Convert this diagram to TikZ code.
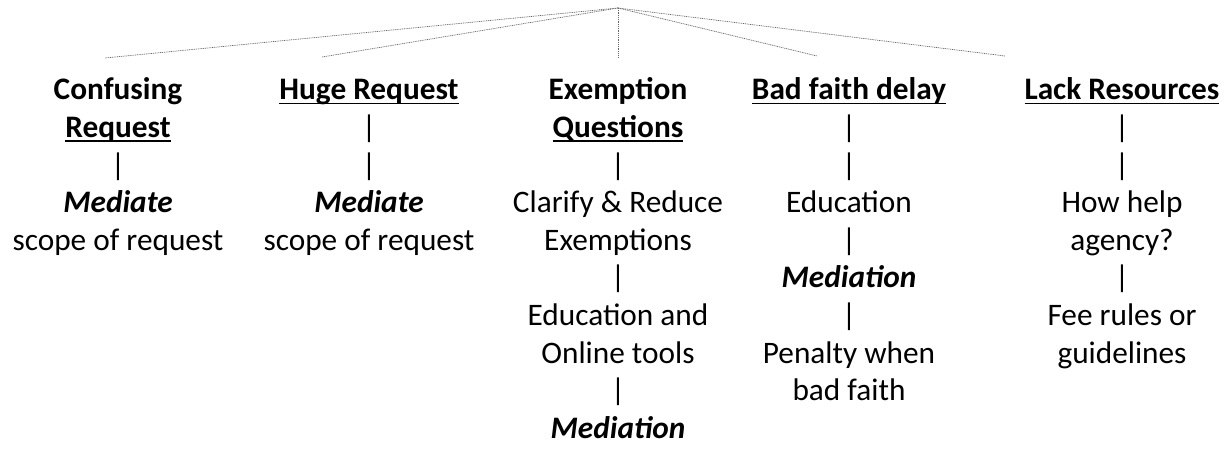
\documentclass[tikz,border=0pt]{standalone}
\usepackage{fontspec}
\setmainfont{Carlito}
% underline set at a fixed depth below the baseline
\newcommand\ulword[1]{\setbox0\hbox{#1}\rlap{\rule[-4.5pt]{\wd0}{1.8pt}}\box0}
\newcommand\medword[1]{\textbf{\textit{#1}}}
\tikzset{
  column/.style={anchor=base, inner sep=0pt, font=\fontsize{31.3}{37.6}\selectfont},
  tie/.style={draw=black!60, line width=0.7pt, dash pattern=on 1pt off 0.8pt}
}
\begin{document}
\begin{tikzpicture}[x=1pt, y=-1pt]
  \useasboundingbox (0,0) rectangle (1232,454);

  % fan of dotted ties from the common apex
  \coordinate (apex) at (618,8);
  \coordinate (e1) at (105,58);
  \coordinate (e2) at (322,57);
  \coordinate (e3) at (618,57);
  \coordinate (e4) at (817,56);
  \coordinate (e5) at (1005,56);
  \foreach \e in {e1,e2,e3,e4,e5} \draw[tie] (apex) -- (\e);

  % the five columns of problems and remedies
  \node[column] (c1) at (118,100) {\begin{tabular}[t]{@{}c@{}}
    \textbf{Confusing}\\
    \textbf{\ulword{Request}}\\
    |\\
    \medword{Mediate}\\
    scope of request
  \end{tabular}};

  \node[column] (c2) at (369,100) {\begin{tabular}[t]{@{}c@{}}
    \textbf{\ulword{Huge Request}}\\
    |\\
    |\\
    \medword{Mediate}\\
    scope of request
  \end{tabular}};

  \node[column] (c3) at (618,100) {\begin{tabular}[t]{@{}c@{}}
    \textbf{Exemption}\\
    \textbf{\ulword{Questions}}\\
    |\\
    Clarify \& Reduce\\
    Exemptions\\
    |\\
    Education and\\
    Online tools\\
    |\\
    \medword{Mediation}
  \end{tabular}};

  \node[column] (c4) at (849,100) {\begin{tabular}[t]{@{}c@{}}
    \textbf{\ulword{Bad faith delay}}\\
    |\\
    |\\
    Education\\
    |\\
    \medword{Mediation}\\
    |\\
    Penalty when\\
    bad faith
  \end{tabular}};

  \node[column] (c5) at (1122,100) {\begin{tabular}[t]{@{}c@{}}
    \textbf{\ulword{Lack Resources}}\\
    |\\
    |\\
    How help\\
    agency?\\
    |\\
    Fee rules or\\
    guidelines
  \end{tabular}};
\end{tikzpicture}
\end{document}
